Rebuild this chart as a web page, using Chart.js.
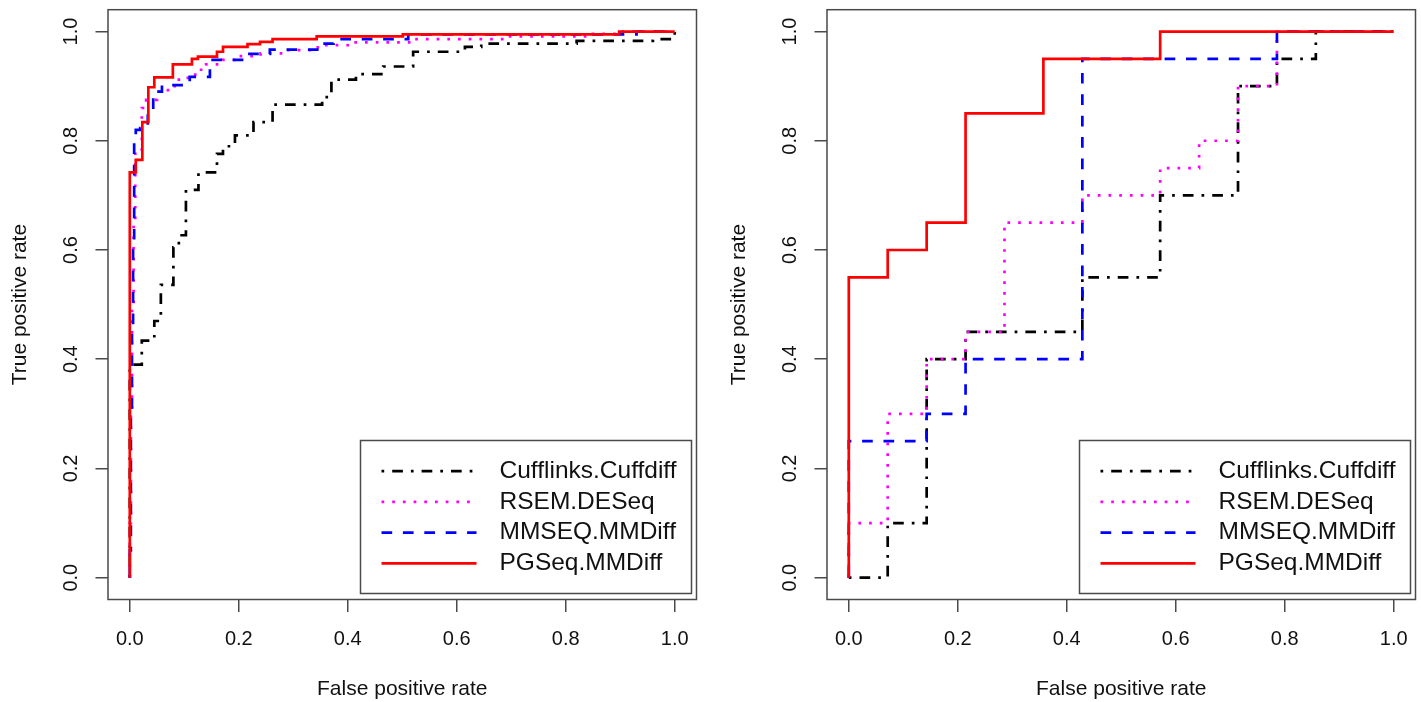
<!DOCTYPE html>
<html>
<head>
<meta charset="utf-8">
<script src="https://cdn.jsdelivr.net/npm/chart.js@4/dist/chart.umd.min.js"></script>
<style>
  body { margin: 0; background: #fff; }
  canvas { position: absolute; top: 0; }
  #left { left: 0; }
  #right { left: 719px; }
</style>
</head>
<body>
<canvas id="left" width="719" height="702"></canvas>
<canvas id="right" width="702" height="702"></canvas>
<script>
const seriesNames = ['Cufflinks.Cuffdiff', 'RSEM.DESeq', 'MMSEQ.MMDiff', 'PGSeq.MMDiff'];
const tickValues = [0, 0.2, 0.4, 0.6, 0.8, 1.0];

// left panel (fpr, tpr corner points of each step curve)
const leftCuffFpr = [0, 0.022, 0.045, 0.057, 0.08, 0.09, 0.103, 0.126, 0.16, 0.171, 0.193, 0.227, 0.262, 0.353, 0.37, 0.415, 0.465, 0.52, 0.615, 0.645, 0.82, 0.96, 1.0, 1.0];
const leftCuffTpr = [0, 0.39, 0.434, 0.47, 0.536, 0.605, 0.627, 0.71, 0.742, 0.776, 0.79, 0.81, 0.834, 0.866, 0.88, 0.912, 0.922, 0.936, 0.963, 0.972, 0.978, 0.983, 0.986, 1.0];
const leftRsemFpr = [0, 0.002, 0.004, 0.007, 0.01, 0.022, 0.03, 0.05, 0.07, 0.09, 0.12, 0.14, 0.17, 0.2, 0.24, 0.28, 0.345, 0.4, 0.52, 0.695, 0.84, 0.9, 1.0];
const leftRsemTpr = [0, 0.1, 0.3, 0.5, 0.65, 0.78, 0.86, 0.875, 0.89, 0.9, 0.915, 0.93, 0.94, 0.948, 0.955, 0.96, 0.966, 0.975, 0.98, 0.986, 0.991, 0.996, 1.0];
const leftMmFpr = [0, 0.002, 0.004, 0.006, 0.008, 0.011, 0.019, 0.033, 0.043, 0.059, 0.11, 0.147, 0.21, 0.257, 0.349, 0.374, 0.511, 0.93, 1.0];
const leftMmTpr = [0, 0.05, 0.3, 0.45, 0.6, 0.8, 0.82, 0.823, 0.85, 0.89, 0.902, 0.917, 0.948, 0.959, 0.967, 0.978, 0.986, 0.995, 1.0];
const leftPgFpr = [0, 0.011, 0.023, 0.034, 0.045, 0.079, 0.114, 0.125, 0.16, 0.171, 0.216, 0.239, 0.262, 0.343, 0.501, 0.898, 1.0];
const leftPgTpr = [0, 0.742, 0.765, 0.834, 0.898, 0.916, 0.94, 0.95, 0.954, 0.963, 0.972, 0.977, 0.981, 0.986, 0.991, 0.995, 1.0];

// right panel
const rightCuffFpr = [0, 0.0714, 0.1429, 0.2143, 0.4286, 0.5714, 0.7143, 0.7857, 0.8571, 1.0];
const rightCuffTpr = [0, 0, 0.1, 0.4, 0.45, 0.55, 0.7, 0.9, 0.95, 1.0];
const rightRsemFpr = [0, 0.0714, 0.1429, 0.2143, 0.2857, 0.4286, 0.5714, 0.6429, 0.7143, 0.7857, 1.0];
const rightRsemTpr = [0, 0.1, 0.3, 0.4, 0.45, 0.65, 0.7, 0.75, 0.8, 0.9, 1.0];
const rightMmFpr = [0, 0.1429, 0.2143, 0.4286, 0.7857, 1.0];
const rightMmTpr = [0, 0.25, 0.3, 0.4, 0.95, 1.0];
const rightPgFpr = [0, 0.0714, 0.1429, 0.2143, 0.3571, 0.5714, 1.0];
const rightPgTpr = [0, 0.55, 0.6, 0.65, 0.85, 0.95, 1.0];

const FONT = '"Liberation Sans", Arial, Helvetica, sans-serif';
const LW = 2.7;
const styles = [
  { color: '#000000', dash: [LW, 8, 10.7, 8], order: 3 },
  { color: '#ff00ff', dash: [LW, 8], order: 2 },
  { color: '#0000ff', dash: [10.7, 10.7], order: 1 },
  { color: '#ff0000', dash: [], order: 0 }
];

function points(xs, ys) {
  return xs.map((x, i) => ({ x: x, y: ys[i] }));
}

function makeDatasets(series) {
  return series.map((s, i) => ({
    label: seriesNames[i],
    data: points(s[0], s[1]),
    borderColor: styles[i].color,
    borderWidth: LW,
    borderDash: styles[i].dash,
    borderCapStyle: 'butt',
    stepped: 'after',
    pointRadius: 0,
    fill: false,
    order: styles[i].order
  }));
}

// box round the plot region, like R's box()
const plotBox = {
  id: 'plotBox',
  afterDraw(chart) {
    const ctx = chart.ctx, ca = chart.chartArea;
    ctx.save();
    ctx.strokeStyle = '#4a4a4a';
    ctx.lineWidth = 1.5;
    ctx.strokeRect(ca.left, ca.top, ca.right - ca.left, ca.bottom - ca.top);
    ctx.restore();
  }
};

// legend in the bottom right corner of the plot
const boxLegend = {
  id: 'boxLegend',
  afterDatasetsDraw(chart) {
    const ctx = chart.ctx, ca = chart.chartArea;
    const w = 331, h = 153;
    const x0 = ca.right - 5 - w, y0 = ca.bottom - 6 - h;
    ctx.save();
    ctx.fillStyle = '#fff';
    ctx.fillRect(x0, y0, w, h);
    ctx.strokeStyle = '#4a4a4a';
    ctx.lineWidth = 1.5;
    ctx.strokeRect(x0, y0, w, h);
    seriesNames.forEach((name, i) => {
      const ds = chart.data.datasets[i];
      const y = y0 + 30.7 * (i + 1);
      ctx.beginPath();
      ctx.setLineDash(ds.borderDash);
      ctx.strokeStyle = ds.borderColor;
      ctx.lineWidth = ds.borderWidth;
      ctx.moveTo(x0 + 21, y);
      ctx.lineTo(x0 + 116, y);
      ctx.stroke();
      ctx.setLineDash([]);
      ctx.fillStyle = '#111';
      ctx.font = '24.5px ' + FONT;
      ctx.textBaseline = 'middle';
      ctx.textAlign = 'left';
      ctx.fillText(name, x0 + 139, y);
    });
    ctx.restore();
  }
};

function axis(title, isY) {
  return {
    type: 'linear',
    min: -0.04,
    max: 1.04,
    afterBuildTicks: scale => { scale.ticks = tickValues.map(v => ({ value: v })); },
    afterFit: scale => {
      if (isY) scale.width = 108; else scale.height = 102.5;
      scale.paddingTop = 0;
      scale.paddingBottom = 0;
      scale.paddingLeft = 0;
      scale.paddingRight = 0;
    },
    grid: { drawOnChartArea: false, drawTicks: true, tickLength: 12.5, color: '#4a4a4a', lineWidth: 1.5 },
    border: { display: false },
    ticks: {
      color: '#111',
      font: { family: FONT, size: 20 },
      padding: isY ? 10 : 15,
      minRotation: isY ? 90 : 0,
      maxRotation: isY ? 90 : 0,
      crossAlign: isY ? 'center' : 'near',
      autoSkip: false,
      callback: v => Number(v).toFixed(1)
    },
    title: {
      display: true,
      text: title,
      color: '#111',
      font: { family: FONT, size: 21 },
      padding: isY ? { top: 7.4, bottom: 0 } : { top: 0, bottom: 0 }
    }
  };
}

function makePanel(id, width, series) {
  return new Chart(document.getElementById(id), {
    type: 'line',
    data: { datasets: makeDatasets(series) },
    options: {
      responsive: false,
      animation: false,
      layout: { padding: { left: 0, top: 9.7, right: width - 696.5, bottom: 0 } },
      plugins: { legend: { display: false }, tooltip: { enabled: false } },
      scales: {
        x: axis('False positive rate', false),
        y: axis('True positive rate', true)
      }
    },
    plugins: [plotBox, boxLegend]
  });
}

makePanel('left', 719, [
  [leftCuffFpr, leftCuffTpr],
  [leftRsemFpr, leftRsemTpr],
  [leftMmFpr, leftMmTpr],
  [leftPgFpr, leftPgTpr]
]);
makePanel('right', 702, [
  [rightCuffFpr, rightCuffTpr],
  [rightRsemFpr, rightRsemTpr],
  [rightMmFpr, rightMmTpr],
  [rightPgFpr, rightPgTpr]
]);
</script>
</body>
</html>
